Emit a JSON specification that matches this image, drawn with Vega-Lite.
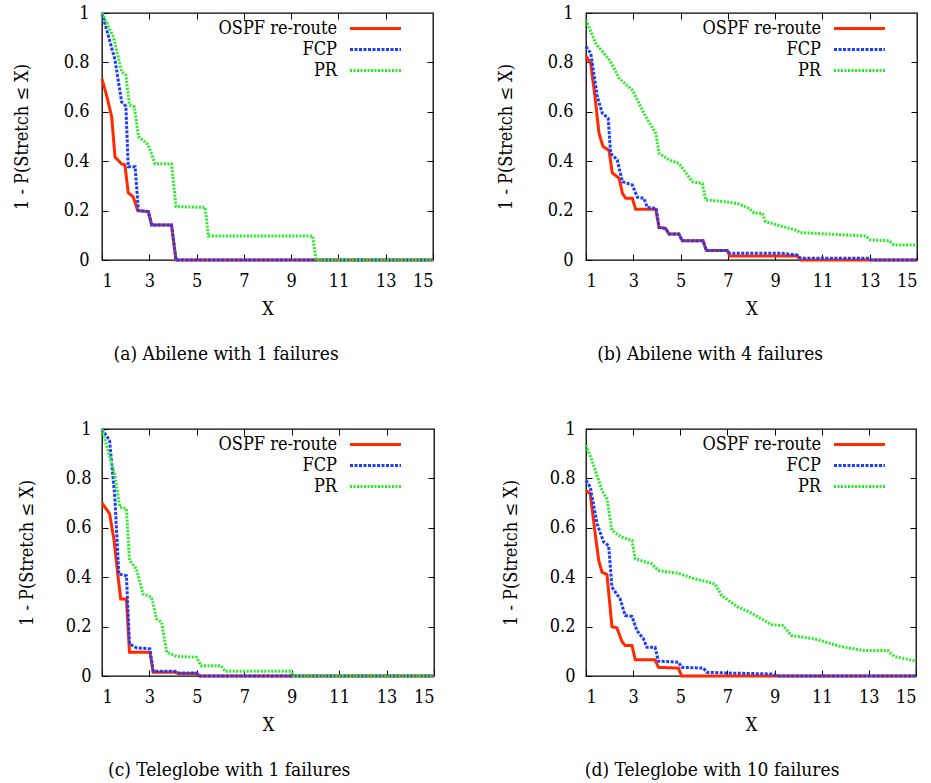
{
  "$schema": "https://vega.github.io/schema/vega-lite/v6.json",
  "padding": {"left": 12, "top": 3, "right": 5, "bottom": 5},
  "background": "white",
  "datasets": {
    "a": [
      {"s": "OSPF re-route", "x": 1, "y": 0.733}, {"s": "OSPF re-route", "x": 1.17, "y": 0.675}, {"s": "OSPF re-route", "x": 1.41, "y": 0.58}, {"s": "OSPF re-route", "x": 1.55, "y": 0.417}, {"s": "OSPF re-route", "x": 1.83, "y": 0.389}, {"s": "OSPF re-route", "x": 1.97, "y": 0.385}, {"s": "OSPF re-route", "x": 2.11, "y": 0.272}, {"s": "OSPF re-route", "x": 2.32, "y": 0.256}, {"s": "OSPF re-route", "x": 2.51, "y": 0.2}, {"s": "OSPF re-route", "x": 2.96, "y": 0.196}, {"s": "OSPF re-route", "x": 3.1, "y": 0.142}, {"s": "OSPF re-route", "x": 3.94, "y": 0.142}, {"s": "OSPF re-route", "x": 4.13, "y": 0}, {"s": "OSPF re-route", "x": 15, "y": 0},
      {"s": "FCP", "x": 1, "y": 1}, {"s": "FCP", "x": 1.55, "y": 0.81}, {"s": "FCP", "x": 1.83, "y": 0.64}, {"s": "FCP", "x": 2.01, "y": 0.623}, {"s": "FCP", "x": 2.11, "y": 0.378}, {"s": "FCP", "x": 2.4, "y": 0.378}, {"s": "FCP", "x": 2.54, "y": 0.2}, {"s": "FCP", "x": 2.96, "y": 0.196}, {"s": "FCP", "x": 3.1, "y": 0.142}, {"s": "FCP", "x": 3.94, "y": 0.142}, {"s": "FCP", "x": 4.13, "y": 0}, {"s": "FCP", "x": 15, "y": 0},
      {"s": "PR", "x": 1, "y": 1}, {"s": "PR", "x": 1.48, "y": 0.904}, {"s": "PR", "x": 1.83, "y": 0.762}, {"s": "PR", "x": 2.01, "y": 0.749}, {"s": "PR", "x": 2.16, "y": 0.627}, {"s": "PR", "x": 2.37, "y": 0.62}, {"s": "PR", "x": 2.54, "y": 0.5}, {"s": "PR", "x": 2.96, "y": 0.466}, {"s": "PR", "x": 3.24, "y": 0.39}, {"s": "PR", "x": 3.94, "y": 0.389}, {"s": "PR", "x": 4.13, "y": 0.216}, {"s": "PR", "x": 5.36, "y": 0.213}, {"s": "PR", "x": 5.5, "y": 0.097}, {"s": "PR", "x": 9.91, "y": 0.097}, {"s": "PR", "x": 10.05, "y": 0}, {"s": "PR", "x": 15, "y": 0}
    ],
    "b": [
      {"s": "OSPF re-route", "x": 1, "y": 0.826}, {"s": "OSPF re-route", "x": 1.2, "y": 0.796}, {"s": "OSPF re-route", "x": 1.38, "y": 0.661}, {"s": "OSPF re-route", "x": 1.55, "y": 0.513}, {"s": "OSPF re-route", "x": 1.72, "y": 0.459}, {"s": "OSPF re-route", "x": 1.97, "y": 0.445}, {"s": "OSPF re-route", "x": 2.11, "y": 0.353}, {"s": "OSPF re-route", "x": 2.4, "y": 0.331}, {"s": "OSPF re-route", "x": 2.54, "y": 0.27}, {"s": "OSPF re-route", "x": 2.68, "y": 0.25}, {"s": "OSPF re-route", "x": 2.96, "y": 0.25}, {"s": "OSPF re-route", "x": 3.1, "y": 0.205}, {"s": "OSPF re-route", "x": 3.95, "y": 0.205}, {"s": "OSPF re-route", "x": 4.09, "y": 0.132}, {"s": "OSPF re-route", "x": 4.37, "y": 0.128}, {"s": "OSPF re-route", "x": 4.51, "y": 0.105}, {"s": "OSPF re-route", "x": 4.93, "y": 0.105}, {"s": "OSPF re-route", "x": 5.07, "y": 0.078}, {"s": "OSPF re-route", "x": 5.95, "y": 0.078}, {"s": "OSPF re-route", "x": 6.09, "y": 0.038}, {"s": "OSPF re-route", "x": 6.98, "y": 0.038}, {"s": "OSPF re-route", "x": 7.08, "y": 0.016}, {"s": "OSPF re-route", "x": 9.94, "y": 0.016}, {"s": "OSPF re-route", "x": 10.08, "y": 0}, {"s": "OSPF re-route", "x": 15, "y": 0},
      {"s": "FCP", "x": 1, "y": 0.864}, {"s": "FCP", "x": 1.2, "y": 0.837}, {"s": "FCP", "x": 1.48, "y": 0.661}, {"s": "FCP", "x": 1.69, "y": 0.594}, {"s": "FCP", "x": 1.94, "y": 0.574}, {"s": "FCP", "x": 2.04, "y": 0.432}, {"s": "FCP", "x": 2.32, "y": 0.405}, {"s": "FCP", "x": 2.54, "y": 0.317}, {"s": "FCP", "x": 2.96, "y": 0.304}, {"s": "FCP", "x": 3.17, "y": 0.254}, {"s": "FCP", "x": 3.45, "y": 0.25}, {"s": "FCP", "x": 3.59, "y": 0.213}, {"s": "FCP", "x": 3.97, "y": 0.209}, {"s": "FCP", "x": 4.09, "y": 0.132}, {"s": "FCP", "x": 4.37, "y": 0.128}, {"s": "FCP", "x": 4.51, "y": 0.105}, {"s": "FCP", "x": 4.93, "y": 0.105}, {"s": "FCP", "x": 5.07, "y": 0.078}, {"s": "FCP", "x": 5.95, "y": 0.078}, {"s": "FCP", "x": 6.09, "y": 0.038}, {"s": "FCP", "x": 6.98, "y": 0.038}, {"s": "FCP", "x": 7.08, "y": 0.027}, {"s": "FCP", "x": 9.3, "y": 0.027}, {"s": "FCP", "x": 9.94, "y": 0.02}, {"s": "FCP", "x": 10.08, "y": 0.007}, {"s": "FCP", "x": 12.97, "y": 0.007}, {"s": "FCP", "x": 13.05, "y": 0}, {"s": "FCP", "x": 15, "y": 0},
      {"s": "PR", "x": 1, "y": 0.972}, {"s": "PR", "x": 1.41, "y": 0.877}, {"s": "PR", "x": 1.9, "y": 0.82}, {"s": "PR", "x": 2.04, "y": 0.803}, {"s": "PR", "x": 2.4, "y": 0.736}, {"s": "PR", "x": 2.96, "y": 0.688}, {"s": "PR", "x": 3.53, "y": 0.58}, {"s": "PR", "x": 3.95, "y": 0.513}, {"s": "PR", "x": 4.09, "y": 0.432}, {"s": "PR", "x": 4.51, "y": 0.405}, {"s": "PR", "x": 4.93, "y": 0.391}, {"s": "PR", "x": 5.5, "y": 0.317}, {"s": "PR", "x": 5.92, "y": 0.31}, {"s": "PR", "x": 6.06, "y": 0.243}, {"s": "PR", "x": 6.91, "y": 0.236}, {"s": "PR", "x": 7.47, "y": 0.227}, {"s": "PR", "x": 7.9, "y": 0.209}, {"s": "PR", "x": 8.11, "y": 0.19}, {"s": "PR", "x": 8.46, "y": 0.189}, {"s": "PR", "x": 8.6, "y": 0.155}, {"s": "PR", "x": 9.87, "y": 0.121}, {"s": "PR", "x": 10.08, "y": 0.111}, {"s": "PR", "x": 12.83, "y": 0.097}, {"s": "PR", "x": 13.04, "y": 0.081}, {"s": "PR", "x": 13.82, "y": 0.078}, {"s": "PR", "x": 14.03, "y": 0.061}, {"s": "PR", "x": 15, "y": 0.061}
    ],
    "c": [
      {"s": "OSPF re-route", "x": 1, "y": 0.7}, {"s": "OSPF re-route", "x": 1.32, "y": 0.657}, {"s": "OSPF re-route", "x": 1.51, "y": 0.549}, {"s": "OSPF re-route", "x": 1.68, "y": 0.4}, {"s": "OSPF re-route", "x": 1.79, "y": 0.312}, {"s": "OSPF re-route", "x": 2.03, "y": 0.312}, {"s": "OSPF re-route", "x": 2.16, "y": 0.096}, {"s": "OSPF re-route", "x": 3.02, "y": 0.096}, {"s": "OSPF re-route", "x": 3.16, "y": 0.015}, {"s": "OSPF re-route", "x": 4.07, "y": 0.015}, {"s": "OSPF re-route", "x": 4.24, "y": 0.01}, {"s": "OSPF re-route", "x": 4.99, "y": 0.01}, {"s": "OSPF re-route", "x": 5.13, "y": 0}, {"s": "OSPF re-route", "x": 15, "y": 0},
      {"s": "FCP", "x": 1, "y": 1}, {"s": "FCP", "x": 1.32, "y": 0.954}, {"s": "FCP", "x": 1.54, "y": 0.724}, {"s": "FCP", "x": 1.71, "y": 0.413}, {"s": "FCP", "x": 2.03, "y": 0.406}, {"s": "FCP", "x": 2.16, "y": 0.13}, {"s": "FCP", "x": 2.45, "y": 0.114}, {"s": "FCP", "x": 3.02, "y": 0.11}, {"s": "FCP", "x": 3.16, "y": 0.019}, {"s": "FCP", "x": 4.07, "y": 0.019}, {"s": "FCP", "x": 4.24, "y": 0.012}, {"s": "FCP", "x": 4.99, "y": 0.012}, {"s": "FCP", "x": 5.13, "y": 0}, {"s": "FCP", "x": 15, "y": 0},
      {"s": "PR", "x": 1, "y": 1}, {"s": "PR", "x": 1.54, "y": 0.812}, {"s": "PR", "x": 1.75, "y": 0.684}, {"s": "PR", "x": 2.03, "y": 0.677}, {"s": "PR", "x": 2.16, "y": 0.468}, {"s": "PR", "x": 2.45, "y": 0.434}, {"s": "PR", "x": 2.73, "y": 0.332}, {"s": "PR", "x": 3.09, "y": 0.319}, {"s": "PR", "x": 3.3, "y": 0.231}, {"s": "PR", "x": 3.51, "y": 0.218}, {"s": "PR", "x": 3.73, "y": 0.096}, {"s": "PR", "x": 4.15, "y": 0.079}, {"s": "PR", "x": 4.99, "y": 0.076}, {"s": "PR", "x": 5.17, "y": 0.042}, {"s": "PR", "x": 6.02, "y": 0.042}, {"s": "PR", "x": 6.19, "y": 0.019}, {"s": "PR", "x": 8.95, "y": 0.019}, {"s": "PR", "x": 9.08, "y": 0}, {"s": "PR", "x": 15, "y": 0}
    ],
    "d": [
      {"s": "OSPF re-route", "x": 1, "y": 0.751}, {"s": "OSPF re-route", "x": 1.18, "y": 0.738}, {"s": "OSPF re-route", "x": 1.39, "y": 0.576}, {"s": "OSPF re-route", "x": 1.54, "y": 0.468}, {"s": "OSPF re-route", "x": 1.68, "y": 0.42}, {"s": "OSPF re-route", "x": 1.89, "y": 0.411}, {"s": "OSPF re-route", "x": 2.1, "y": 0.2}, {"s": "OSPF re-route", "x": 2.31, "y": 0.195}, {"s": "OSPF re-route", "x": 2.52, "y": 0.141}, {"s": "OSPF re-route", "x": 2.66, "y": 0.123}, {"s": "OSPF re-route", "x": 2.95, "y": 0.123}, {"s": "OSPF re-route", "x": 3.09, "y": 0.066}, {"s": "OSPF re-route", "x": 3.93, "y": 0.066}, {"s": "OSPF re-route", "x": 4.07, "y": 0.035}, {"s": "OSPF re-route", "x": 4.92, "y": 0.032}, {"s": "OSPF re-route", "x": 5.06, "y": 0}, {"s": "OSPF re-route", "x": 15, "y": 0},
      {"s": "FCP", "x": 1, "y": 0.792}, {"s": "FCP", "x": 1.18, "y": 0.765}, {"s": "FCP", "x": 1.47, "y": 0.616}, {"s": "FCP", "x": 1.75, "y": 0.542}, {"s": "FCP", "x": 1.96, "y": 0.528}, {"s": "FCP", "x": 2.1, "y": 0.36}, {"s": "FCP", "x": 2.45, "y": 0.312}, {"s": "FCP", "x": 2.66, "y": 0.245}, {"s": "FCP", "x": 2.95, "y": 0.241}, {"s": "FCP", "x": 3.16, "y": 0.184}, {"s": "FCP", "x": 3.44, "y": 0.15}, {"s": "FCP", "x": 3.58, "y": 0.116}, {"s": "FCP", "x": 3.93, "y": 0.116}, {"s": "FCP", "x": 4.07, "y": 0.06}, {"s": "FCP", "x": 4.92, "y": 0.056}, {"s": "FCP", "x": 5.06, "y": 0.035}, {"s": "FCP", "x": 5.98, "y": 0.032}, {"s": "FCP", "x": 6.12, "y": 0.015}, {"s": "FCP", "x": 7, "y": 0.012}, {"s": "FCP", "x": 8.94, "y": 0.008}, {"s": "FCP", "x": 9.08, "y": 0}, {"s": "FCP", "x": 15, "y": 0},
      {"s": "PR", "x": 1, "y": 0.934}, {"s": "PR", "x": 1.25, "y": 0.873}, {"s": "PR", "x": 1.68, "y": 0.751}, {"s": "PR", "x": 1.89, "y": 0.717}, {"s": "PR", "x": 2.1, "y": 0.589}, {"s": "PR", "x": 2.52, "y": 0.562}, {"s": "PR", "x": 2.95, "y": 0.549}, {"s": "PR", "x": 3.09, "y": 0.474}, {"s": "PR", "x": 3.79, "y": 0.454}, {"s": "PR", "x": 4.07, "y": 0.427}, {"s": "PR", "x": 4.92, "y": 0.416}, {"s": "PR", "x": 5.62, "y": 0.393}, {"s": "PR", "x": 6.19, "y": 0.38}, {"s": "PR", "x": 6.47, "y": 0.373}, {"s": "PR", "x": 6.75, "y": 0.326}, {"s": "PR", "x": 7.46, "y": 0.278}, {"s": "PR", "x": 8.02, "y": 0.255}, {"s": "PR", "x": 8.44, "y": 0.231}, {"s": "PR", "x": 8.86, "y": 0.208}, {"s": "PR", "x": 9.36, "y": 0.204}, {"s": "PR", "x": 9.71, "y": 0.164}, {"s": "PR", "x": 10.7, "y": 0.15}, {"s": "PR", "x": 11.05, "y": 0.141}, {"s": "PR", "x": 11.82, "y": 0.119}, {"s": "PR", "x": 12.81, "y": 0.103}, {"s": "PR", "x": 13.8, "y": 0.103}, {"s": "PR", "x": 14.08, "y": 0.079}, {"s": "PR", "x": 14.92, "y": 0.062}, {"s": "PR", "x": 15, "y": 0.06}
    ]
  },
  "vconcat": [
    {
      "hconcat": [
        {
          "width": 331, "height": 247,
          "data": {"name": "a"},
          "title": {"text": "(a) Abilene with 1 failures"},
          "layer": [
            {"mark": {"type": "line", "strokeWidth": 3},
             "encoding": {
               "x": {"field": "x", "type": "quantitative", "scale": {"domain": [1, 15], "nice": false}, "axis": {"values": [1, 3, 5, 7, 9, 11, 13, 15], "title": "X"}},
               "y": {"field": "y", "type": "quantitative", "scale": {"domain": [0, 1], "nice": false}, "axis": {"values": [0, 0.2, 0.4, 0.6, 0.8, 1], "format": "~g", "title": "1 - P(Stretch ≤ X)", "labelPadding": 19, "titlePadding": 32}},
               "color": {"field": "s", "type": "nominal", "sort": null, "scale": {"domain": ["OSPF re-route", "FCP", "PR"], "range": ["#ff2a00", "#1e3cff", "#22ee22"]}, "legend": {"title": null}},
               "strokeDash": {"field": "s", "type": "nominal", "sort": null, "scale": {"domain": ["OSPF re-route", "FCP", "PR"], "range": [[1, 0], [3, 1.5], [2, 1.5]]}, "legend": {"title": null}}
             }},
            {"mark": {"type": "line", "opacity": 0},
             "encoding": {
               "x": {"field": "x", "type": "quantitative", "axis": {"orient": "top", "values": [3, 5, 7, 9, 11, 13], "labels": false, "title": null}},
               "y": {"field": "y", "type": "quantitative", "axis": {"orient": "right", "values": [0.2, 0.4, 0.6, 0.8], "labels": false, "title": null}}
             }}
          ],
          "resolve": {"axis": {"x": "independent", "y": "independent"}}
        },
        {
          "width": 331, "height": 247,
          "data": {"name": "b"},
          "title": {"text": "(b) Abilene with 4 failures"},
          "layer": [
            {"mark": {"type": "line", "strokeWidth": 3},
             "encoding": {
               "x": {"field": "x", "type": "quantitative", "scale": {"domain": [1, 15], "nice": false}, "axis": {"values": [1, 3, 5, 7, 9, 11, 13, 15], "title": "X"}},
               "y": {"field": "y", "type": "quantitative", "scale": {"domain": [0, 1], "nice": false}, "axis": {"values": [0, 0.2, 0.4, 0.6, 0.8, 1], "format": "~g", "title": "1 - P(Stretch ≤ X)", "labelPadding": 19, "titlePadding": 32}},
               "color": {"field": "s", "type": "nominal", "sort": null, "scale": {"domain": ["OSPF re-route", "FCP", "PR"], "range": ["#ff2a00", "#1e3cff", "#22ee22"]}, "legend": {"title": null}},
               "strokeDash": {"field": "s", "type": "nominal", "sort": null, "scale": {"domain": ["OSPF re-route", "FCP", "PR"], "range": [[1, 0], [3, 1.5], [2, 1.5]]}, "legend": {"title": null}}
             }},
            {"mark": {"type": "line", "opacity": 0},
             "encoding": {
               "x": {"field": "x", "type": "quantitative", "axis": {"orient": "top", "values": [3, 5, 7, 9, 11, 13], "labels": false, "title": null}},
               "y": {"field": "y", "type": "quantitative", "axis": {"orient": "right", "values": [0.2, 0.4, 0.6, 0.8], "labels": false, "title": null}}
             }}
          ],
          "resolve": {"axis": {"x": "independent", "y": "independent"}}
        }
      ],
      "spacing": 56,
      "resolve": {"scale": {"color": "independent", "strokeDash": "independent"}}
    },
    {
      "hconcat": [
        {
          "width": 332, "height": 247,
          "data": {"name": "c"},
          "title": {"text": "(c) Teleglobe with 1 failures"},
          "layer": [
            {"mark": {"type": "line", "strokeWidth": 3},
             "encoding": {
               "x": {"field": "x", "type": "quantitative", "scale": {"domain": [1, 15], "nice": false}, "axis": {"values": [1, 3, 5, 7, 9, 11, 13, 15], "title": "X"}},
               "y": {"field": "y", "type": "quantitative", "scale": {"domain": [0, 1], "nice": false}, "axis": {"values": [0, 0.2, 0.4, 0.6, 0.8, 1], "format": "~g", "title": "1 - P(Stretch ≤ X)", "labelPadding": 17, "titlePadding": 29}},
               "color": {"field": "s", "type": "nominal", "sort": null, "scale": {"domain": ["OSPF re-route", "FCP", "PR"], "range": ["#ff2a00", "#1e3cff", "#22ee22"]}, "legend": {"title": null}},
               "strokeDash": {"field": "s", "type": "nominal", "sort": null, "scale": {"domain": ["OSPF re-route", "FCP", "PR"], "range": [[1, 0], [3, 1.5], [2, 1.5]]}, "legend": {"title": null}}
             }},
            {"mark": {"type": "line", "opacity": 0},
             "encoding": {
               "x": {"field": "x", "type": "quantitative", "axis": {"orient": "top", "values": [3, 5, 7, 9, 11, 13], "labels": false, "title": null}},
               "y": {"field": "y", "type": "quantitative", "axis": {"orient": "right", "values": [0.2, 0.4, 0.6, 0.8], "labels": false, "title": null}}
             }}
          ],
          "resolve": {"axis": {"x": "independent", "y": "independent"}}
        },
        {
          "width": 330, "height": 247,
          "data": {"name": "d"},
          "title": {"text": "(d) Teleglobe with 10 failures"},
          "layer": [
            {"mark": {"type": "line", "strokeWidth": 3},
             "encoding": {
               "x": {"field": "x", "type": "quantitative", "scale": {"domain": [1, 15], "nice": false}, "axis": {"values": [1, 3, 5, 7, 9, 11, 13, 15], "title": "X"}},
               "y": {"field": "y", "type": "quantitative", "scale": {"domain": [0, 1], "nice": false}, "axis": {"values": [0, 0.2, 0.4, 0.6, 0.8, 1], "format": "~g", "title": "1 - P(Stretch ≤ X)", "labelPadding": 17, "titlePadding": 29}},
               "color": {"field": "s", "type": "nominal", "sort": null, "scale": {"domain": ["OSPF re-route", "FCP", "PR"], "range": ["#ff2a00", "#1e3cff", "#22ee22"]}, "legend": {"title": null}},
               "strokeDash": {"field": "s", "type": "nominal", "sort": null, "scale": {"domain": ["OSPF re-route", "FCP", "PR"], "range": [[1, 0], [3, 1.5], [2, 1.5]]}, "legend": {"title": null}}
             }},
            {"mark": {"type": "line", "opacity": 0},
             "encoding": {
               "x": {"field": "x", "type": "quantitative", "axis": {"orient": "top", "values": [3, 5, 7, 9, 11, 13], "labels": false, "title": null}},
               "y": {"field": "y", "type": "quantitative", "axis": {"orient": "right", "values": [0.2, 0.4, 0.6, 0.8], "labels": false, "title": null}}
             }}
          ],
          "resolve": {"axis": {"x": "independent", "y": "independent"}}
        }
      ],
      "spacing": 60,
      "resolve": {"scale": {"color": "independent", "strokeDash": "independent"}}
    }
  ],
  "spacing": 54,
  "resolve": {"scale": {"color": "independent", "strokeDash": "independent"}},
  "config": {
    "font": "DejaVu Serif Condensed",
    "view": {"stroke": "black", "strokeWidth": 1.3},
    "axis": {
      "labelFont": "DejaVu Serif Condensed", "labelFontSize": 18, "labelColor": "black",
      "titleFont": "DejaVu Serif Condensed", "titleFontSize": 18, "titleFontWeight": "normal", "titleColor": "black",
      "tickColor": "black", "tickSize": -6, "tickWidth": 1, "domain": false, "grid": false
    },
    "axisX": {"labelPadding": 18, "titlePadding": 10},
    "title": {"font": "DejaVu Serif Condensed", "fontSize": 19, "fontWeight": "normal", "color": "black", "orient": "bottom", "anchor": "middle", "frame": "bounds", "offset": 27},
    "legend": {
      "orient": "none", "legendX": 262, "legendY": 4,
      "symbolType": "M-2.55,0H2.55", "symbolSize": 400, "symbolStrokeWidth": 3,
      "labelAlign": "right", "labelOffset": -50, "labelFont": "DejaVu Serif Condensed", "labelFontSize": 18, "labelColor": "black",
      "rowPadding": 0, "padding": 0
    }
  }
}
